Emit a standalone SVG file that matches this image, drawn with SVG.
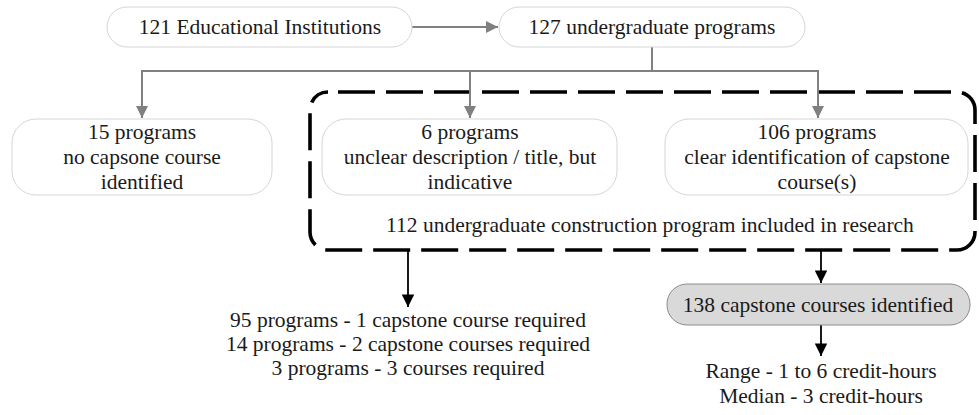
<svg xmlns="http://www.w3.org/2000/svg" width="979" height="415" viewBox="0 0 979 415">
<style>
text{font-family:"Liberation Serif","Times New Roman",serif;font-size:21.5px;fill:#1a1a1a;text-anchor:middle}
.box{fill:#ffffff;stroke:#d6d6d6;stroke-width:1}
.gray{fill:none;stroke:#808080;stroke-width:2}
.blk{fill:none;stroke:#000000;stroke-width:1.8}
.dash{fill:none;stroke:#000000;stroke-width:3.6;stroke-dasharray:37 11;stroke-dashoffset:38}
</style>
<defs>
<marker id="ag" viewBox="0 0 10 10" refX="10" refY="5" markerWidth="6" markerHeight="6" markerUnits="strokeWidth" orient="auto">
<path d="M0,0 L10,5 L0,10 Z" fill="#808080"/>
</marker>
<marker id="ab" viewBox="0 0 10 10" refX="10" refY="5" markerWidth="7" markerHeight="7" markerUnits="strokeWidth" orient="auto">
<path d="M0,0 L10,5 L0,10 Z" fill="#000000"/>
</marker>
</defs>
<g id="group-included">
<path class="dash" d="M328,92 H957 A18,18 0 0 1 975,110 V232 A18,18 0 0 1 957,250 H328 A18,18 0 0 1 310,232 V110 A18,18 0 0 1 328,92 Z"/>
<text x="650" y="232">112 undergraduate construction program included in research</text>
</g>
<g id="connectors">
<line class="gray" x1="412" y1="27" x2="498" y2="27" marker-end="url(#ag)"/>
<polyline class="gray" points="652,47 652,71"/>
<line class="gray" x1="141" y1="71" x2="819" y2="71"/>
<line class="gray" x1="142" y1="71" x2="142" y2="118" marker-end="url(#ag)"/>
<line class="gray" x1="470" y1="71" x2="470" y2="118" marker-end="url(#ag)"/>
<line class="gray" x1="818" y1="71" x2="818" y2="118" marker-end="url(#ag)"/>
<line class="blk" x1="408" y1="250" x2="408" y2="307" marker-end="url(#ab)"/>
<line class="blk" x1="821" y1="250" x2="821" y2="283" marker-end="url(#ab)"/>
<line class="blk" x1="821" y1="325" x2="821" y2="356" marker-end="url(#ab)"/>
</g>
<g id="n-institutions">
<rect class="box" x="107" y="7" width="305" height="40" rx="20"/>
<text x="260" y="34">121 Educational Institutions</text>
</g>
<g id="n-programs">
<rect class="box" x="499" y="7" width="306" height="40" rx="20"/>
<text x="652" y="34">127 undergraduate programs</text>
</g>
<g id="n-15">
<rect class="box" x="12" y="119" width="260" height="76" rx="24"/>
<text x="142" y="139">15 programs</text>
<text x="142" y="164">no capsone course</text>
<text x="142" y="189">identified</text>
</g>
<g id="n-6">
<rect class="box" x="322" y="119" width="295" height="76" rx="24"/>
<text x="470" y="139">6 programs</text>
<text x="470" y="164">unclear description / title, but</text>
<text x="470" y="189">indicative</text>
</g>
<g id="n-106">
<rect class="box" x="665" y="119" width="303" height="76" rx="24"/>
<text x="817" y="139">106 programs</text>
<text x="817" y="164">clear identification of capstone</text>
<text x="817" y="189">course(s)</text>
</g>
<g id="n-required">
<text x="408" y="327">95 programs - 1 capstone course required</text>
<text x="408" y="351">14 programs - 2 capstone courses required</text>
<text x="408" y="375">3 programs - 3 courses required</text>
</g>
<g id="n-138">
<rect x="667" y="284" width="303" height="41" rx="20" fill="#d9d9d9" stroke="#8c8c8c" stroke-width="1"/>
<text x="818" y="312">138 capstone courses identified</text>
</g>
<g id="n-hours">
<text x="821" y="378">Range - 1 to 6 credit-hours</text>
<text x="821" y="403">Median - 3 credit-hours</text>
</g>
</svg>
